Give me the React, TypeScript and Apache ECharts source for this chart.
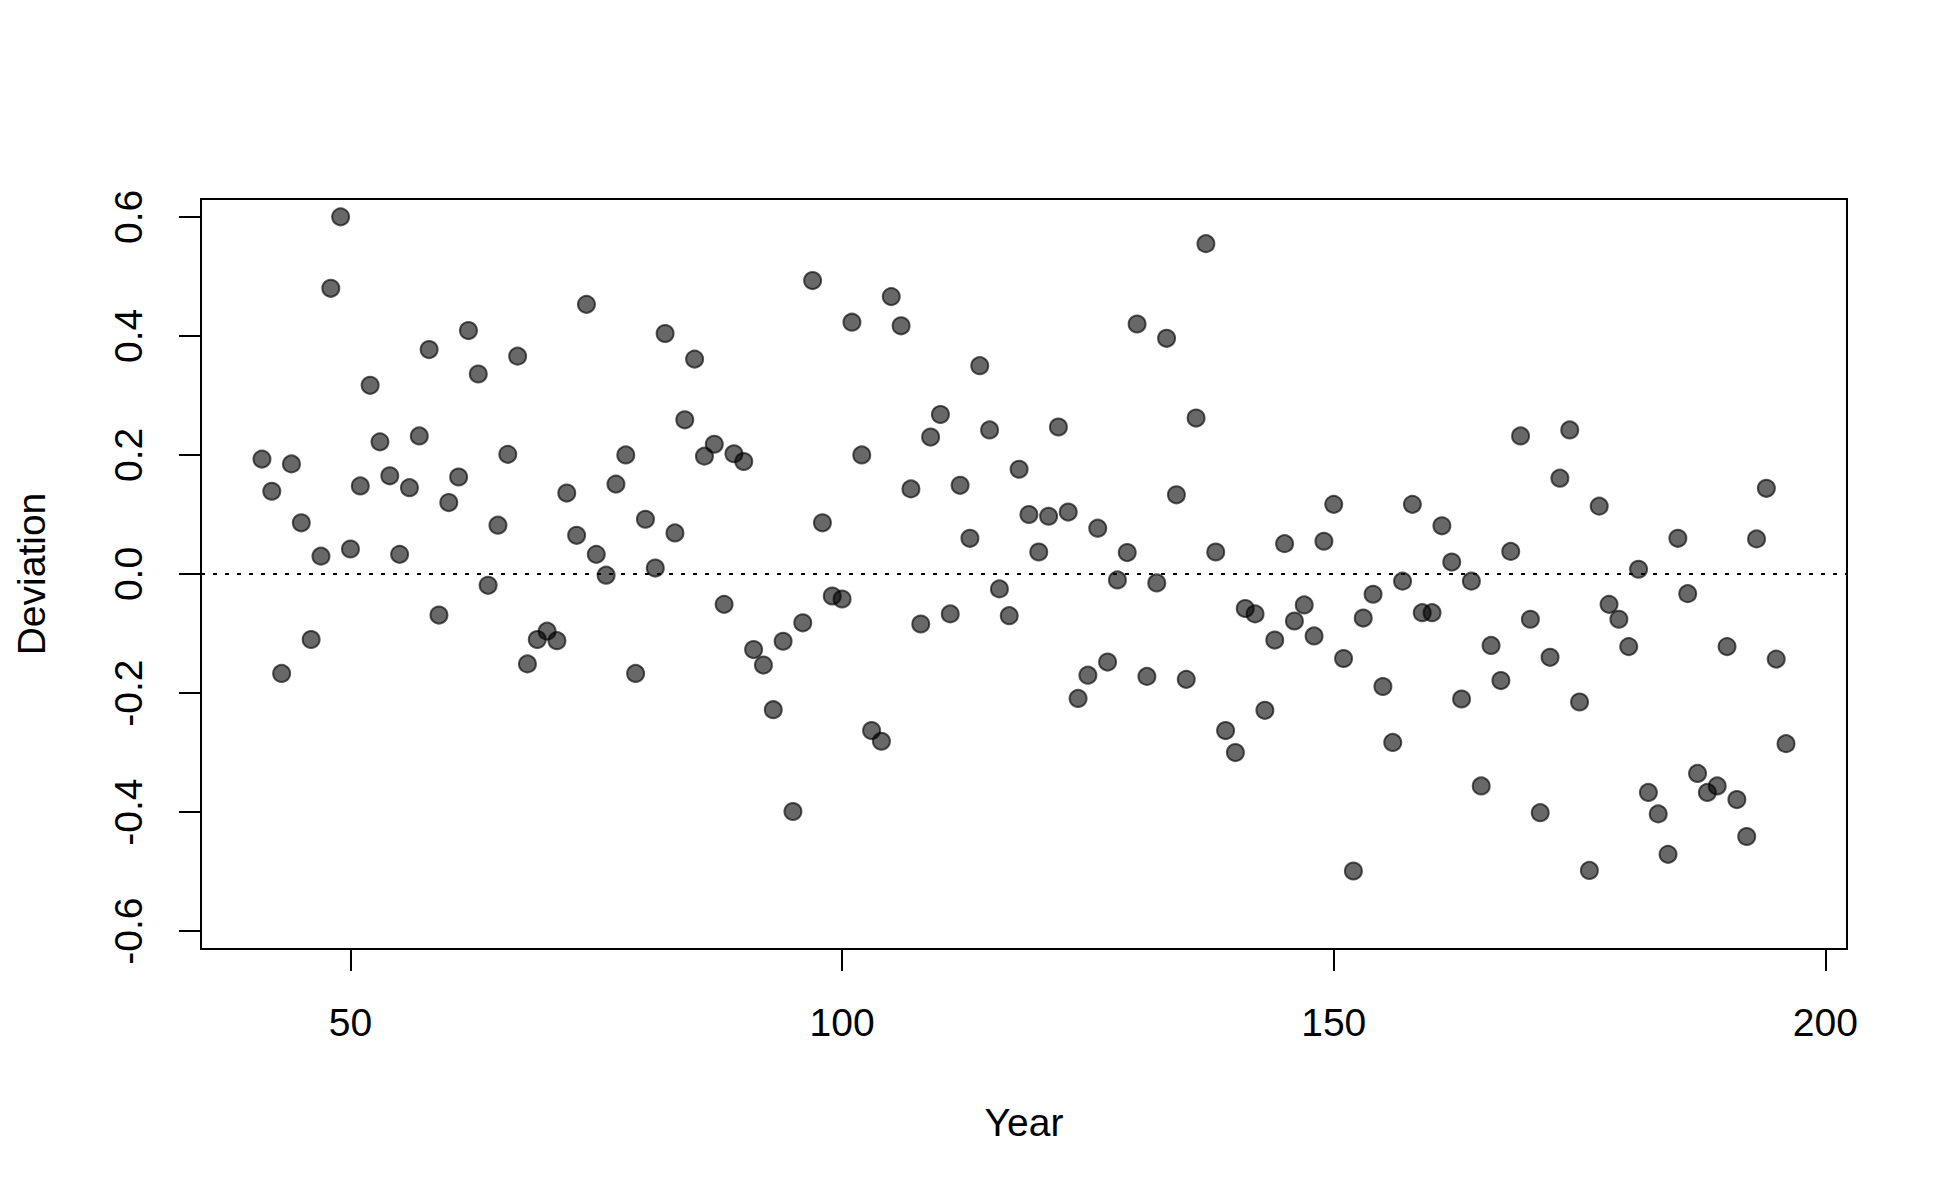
import React, { useEffect, useRef } from "react";
import * as echarts from "echarts";

const years: number[] = [
  41, 42, 43, 44, 45, 46, 47, 48, 49, 50,
  51, 52, 53, 54, 55, 56, 57, 58, 59, 60,
  61, 62, 63, 64, 65, 66, 67, 68, 69, 70,
  71, 72, 73, 74, 75, 76, 77, 78, 79, 80,
  81, 82, 83, 84, 85, 86, 87, 88, 89, 90,
  91, 92, 93, 94, 95, 96, 97, 98, 99, 100,
  101, 102, 103, 104, 105, 106, 107, 108, 109, 110,
  111, 112, 113, 114, 115, 116, 117, 118, 119, 120,
  121, 122, 123, 124, 125, 126, 127, 128, 129, 130,
  131, 132, 133, 134, 135, 136, 137, 138, 139, 140,
  141, 142, 143, 144, 145, 146, 147, 148, 149, 150,
  151, 152, 153, 154, 155, 156, 157, 158, 159, 160,
  161, 162, 163, 164, 165, 166, 167, 168, 169, 170,
  171, 172, 173, 174, 175, 176, 177, 178, 179, 180,
  181, 182, 183, 184, 185, 186, 187, 188, 189, 190,
  191, 192, 193, 194, 195, 196,
];

const deviation: number[] = [
  0.193, 0.139, -0.167, 0.185, 0.086, -0.110, 0.030, 0.480, 0.600, 0.042,
  0.148, 0.317, 0.222, 0.165, 0.033, 0.145, 0.232, 0.377, -0.069, 0.120,
  0.163, 0.409, 0.336, -0.019, 0.082, 0.201, 0.366, -0.151, -0.110, -0.096,
  -0.112, 0.136, 0.065, 0.453, 0.033, -0.002, 0.151, 0.200, -0.167, 0.092,
  0.010, 0.404, 0.069, 0.259, 0.361, 0.198, 0.218, -0.051, 0.202, 0.189,
  -0.127, -0.153, -0.228, -0.113, -0.399, -0.082, 0.493, 0.086, -0.037, -0.042,
  0.423, 0.200, -0.263, -0.281, 0.466, 0.417, 0.143, -0.084, 0.230, 0.268,
  -0.067, 0.149, 0.060, 0.350, 0.242, -0.025, -0.070, 0.176, 0.100, 0.037,
  0.097, 0.247, 0.104, -0.209, -0.170, 0.077, -0.148, -0.010, 0.036, 0.420,
  -0.172, -0.015, 0.396, 0.133, -0.177, 0.262, 0.555, 0.037, -0.263, -0.300,
  -0.058, -0.067, -0.229, -0.111, 0.051, -0.079, -0.052, -0.104, 0.055, 0.117,
  -0.142, -0.499, -0.074, -0.034, -0.189, -0.283, -0.012, 0.117, -0.065, -0.065,
  0.081, 0.020, -0.210, -0.012, -0.356, -0.120, -0.179, 0.038, 0.232, -0.076,
  -0.401, -0.140, 0.161, 0.242, -0.215, -0.498, 0.114, -0.051, -0.076, -0.122,
  0.008, -0.367, -0.403, -0.471, 0.060, -0.033, -0.335, -0.367, -0.356, -0.122,
  -0.379, -0.441, 0.059, 0.144, -0.143, -0.285,
];

const xTicks: number[] = [50, 100, 150, 200];
const yTicks: number[] = [-0.6, -0.4, -0.2, 0.0, 0.2, 0.4, 0.6];
const referenceLine: number = 0;

const FONT = "'Liberation Sans', Arial, Helvetica, sans-serif";

export default function App() {
  const ref = useRef<HTMLDivElement | null>(null);

  useEffect(() => {
    if (!ref.current) return;
    const chart = echarts.init(ref.current, undefined, { renderer: "svg" });
    const points = years.map((yr, i) => [yr, deviation[i]]);

    chart.setOption({
      animation: false,
      backgroundColor: "#ffffff",
      textStyle: { fontFamily: FONT, color: "#000" },
      grid: {
        left: 201,
        right: 103,
        top: 199,
        bottom: 251,
        show: true,
        borderColor: "#000",
        borderWidth: 2,
        backgroundColor: "transparent",
      },
      xAxis: {
        type: "value",
        min: 34.8,
        max: 202.2,
        name: "Year",
        nameLocation: "middle",
        nameGap: 154,
        nameTextStyle: { fontSize: 39, color: "#000", fontFamily: FONT },
        axisLine: { show: false, onZero: false },
        splitLine: { show: false },
        axisTick: {
          show: true,
          length: 22,
          customValues: xTicks,
          lineStyle: { color: "#000", width: 2 },
        },
        axisLabel: {
          customValues: xTicks,
          fontSize: 39,
          color: "#000",
          fontFamily: FONT,
          margin: 54,
          formatter: (v: number) => String(v),
        },
      },
      yAxis: {
        type: "value",
        min: -0.63,
        max: 0.63,
        name: "Deviation",
        nameLocation: "middle",
        nameRotate: 90,
        nameGap: 150,
        nameTextStyle: { fontSize: 39, color: "#000", fontFamily: FONT },
        axisLine: { show: false, onZero: false },
        splitLine: { show: false },
        axisTick: {
          show: true,
          length: 22,
          customValues: yTicks,
          lineStyle: { color: "#000", width: 2 },
        },
        axisLabel: {
          customValues: yTicks,
          rotate: 90,
          fontSize: 39,
          color: "#000",
          fontFamily: FONT,
          margin: 53,
          formatter: (v: number) => v.toFixed(1),
        },
      },
      series: [
        {
          type: "scatter",
          data: points,
          symbol: "circle",
          symbolSize: 17,
          itemStyle: {
            color: "rgba(0,0,0,0.74)",
            borderColor: "rgba(0,0,0,0.8)",
            borderWidth: 2,
          },
          markLine: {
            silent: true,
            symbol: ["none", "none"],
            label: { show: false },
            lineStyle: { color: "#000", width: 2, type: [4, 8] },
            data: [{ yAxis: referenceLine }],
          },
        },
      ],
    });

    return () => {
      chart.dispose();
    };
  }, []);

  return (
    <div
      ref={ref}
      style={{ position: "absolute", left: 0, top: 0, width: 1950, height: 1200, background: "#fff" }}
    />
  );
}
